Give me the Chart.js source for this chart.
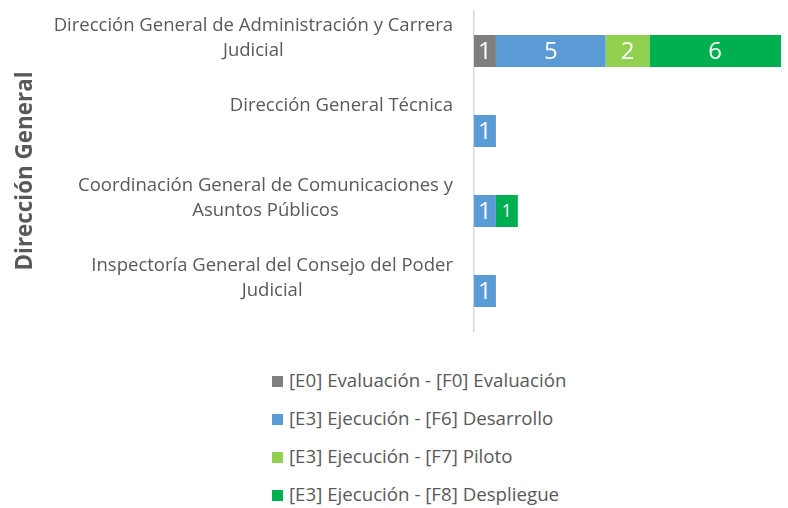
<!DOCTYPE html>
<html>
<head>
<meta charset="utf-8">
<script src="https://cdn.jsdelivr.net/npm/chart.js@4"></script>
<style>
  body { margin: 0; background: #fff; font-family: "Open Sans", sans-serif; }
  #wrap { position: relative; width: 788px; height: 508px; }
  #box { position: absolute; left: 0; top: 0; width: 788px; height: 340px; }
  #legend { position: absolute; left: 272px; top: 365px; color: #595959; font-size: 18.7px; }
  #legend div { height: 38px; line-height: 30px; white-space: nowrap; }
  #legend span.sw { display: inline-block; width: 11px; height: 11px; margin-right: 6px; vertical-align: 0px; }
</style>
</head>
<body>
<div id="wrap">
  <div id="box"><canvas id="graph"></canvas></div>
  <div id="legend"></div>
</div>
<script>
// categories (extra empty line keeps the one-line label on the same top line as the others)
const categories = [
    ['Dirección General de Administración y Carrera', 'Judicial'],
    ['Dirección General Técnica', ''],
    ['Coordinación General de Comunicaciones y', 'Asuntos Públicos'],
    ['Inspectoría General del Consejo del Poder', 'Judicial']
];
const seriesNames = [
    '[E0] Evaluación - [F0] Evaluación',
    '[E3] Ejecución - [F6] Desarrollo',
    '[E3] Ejecución - [F7] Piloto',
    '[E3] Ejecución - [F8] Despliegue'
];
const evaluacion = [1, null, null, null];
const desarrollo = [5, 1, 1, 1];
const piloto = [2, null, null, null];
const despliegue = [6, null, 1, null];
const colors = ['#7F7F7F', '#5B9BD5', '#92D050', '#00B050'];

const textColor = '#595959';
const fontFamily = '"Open Sans", sans-serif';

// draws the value in the middle of each bar piece
const valueLabels = {
    id: 'valueLabels',
    afterDatasetsDraw(chart) {
        const ctx = chart.ctx;
        ctx.save();
        ctx.fillStyle = '#fff';
        ctx.textAlign = 'center';
        ctx.textBaseline = 'middle';
        chart.data.datasets.forEach((ds, di) => {
            chart.getDatasetMeta(di).data.forEach((bar, i) => {
                const v = ds.data[i];
                if (v == null) return;
                // the small green one in row 3 is drawn smaller in the original
                const size = (di === 3 && i === 2) ? 18 : 24;
                ctx.font = size + 'px ' + fontFamily;
                ctx.fillText(String(v), (bar.x + bar.base) / 2, bar.y + 1);
            });
        });
        ctx.restore();
    }
};

// category labels: block right aligned, lines centred inside the block
const categoryLabels = {
    id: 'categoryLabels',
    afterDraw(chart) {
        const ctx = chart.ctx;
        const yScale = chart.scales.y;
        const rightEdge = 453;
        const lineH = 25;
        ctx.save();
        ctx.font = '18.5px ' + fontFamily;
        ctx.fillStyle = textColor;
        ctx.textAlign = 'center';
        ctx.textBaseline = 'middle';
        categories.forEach((lines, i) => {
            const yc = yScale.getPixelForTick(i);
            const w = Math.max(...lines.map(l => ctx.measureText(l).width));
            const cx = rightEdge - w / 2;
            lines.forEach((l, k) => {
                ctx.fillText(l, cx, yc - 25 + k * lineH);
            });
        });
        ctx.restore();
    }
};

const datasets = [evaluacion, desarrollo, piloto, despliegue].map((d, i) => ({
    label: seriesNames[i],
    data: d,
    backgroundColor: colors[i],
    borderWidth: 0,
    categoryPercentage: 0.4,
    barPercentage: 1.0
}));

const ctx = document.getElementById('graph').getContext('2d');
window.chartx = new Chart(ctx, {
    type: 'bar',
    data: {
        labels: categories.map(c => c.join(' ')),
        datasets: datasets
    },
    options: {
        indexAxis: 'y',
        responsive: true,
        maintainAspectRatio: false,
        animation: false,
        layout: { padding: { left: 8, top: 11, right: 7, bottom: 9 } },
        plugins: {
            legend: { display: false },
            tooltip: { enabled: false }
        },
        scales: {
            x: {
                stacked: true,
                display: false,
                min: 0,
                max: 14
            },
            y: {
                stacked: true,
                grid: { display: false },
                border: { display: true, color: '#D9D9D9', width: 1.5 },
                ticks: { display: false },
                title: {
                    display: true,
                    text: 'Dirección General',
                    color: textColor,
                    font: { family: fontFamily, size: 22.4, weight: 'bold' }
                },
                afterFit(scale) { scale.width = 466; }
            }
        }
    },
    plugins: [valueLabels, categoryLabels]
});

// legend below the chart, one series per line
const legendBox = document.getElementById('legend');
seriesNames.forEach((name, i) => {
    const row = document.createElement('div');
    row.innerHTML = '<span class="sw" style="background:' + colors[i] + '"></span>' + name;
    legendBox.appendChild(row);
});
</script>
</body>
</html>
